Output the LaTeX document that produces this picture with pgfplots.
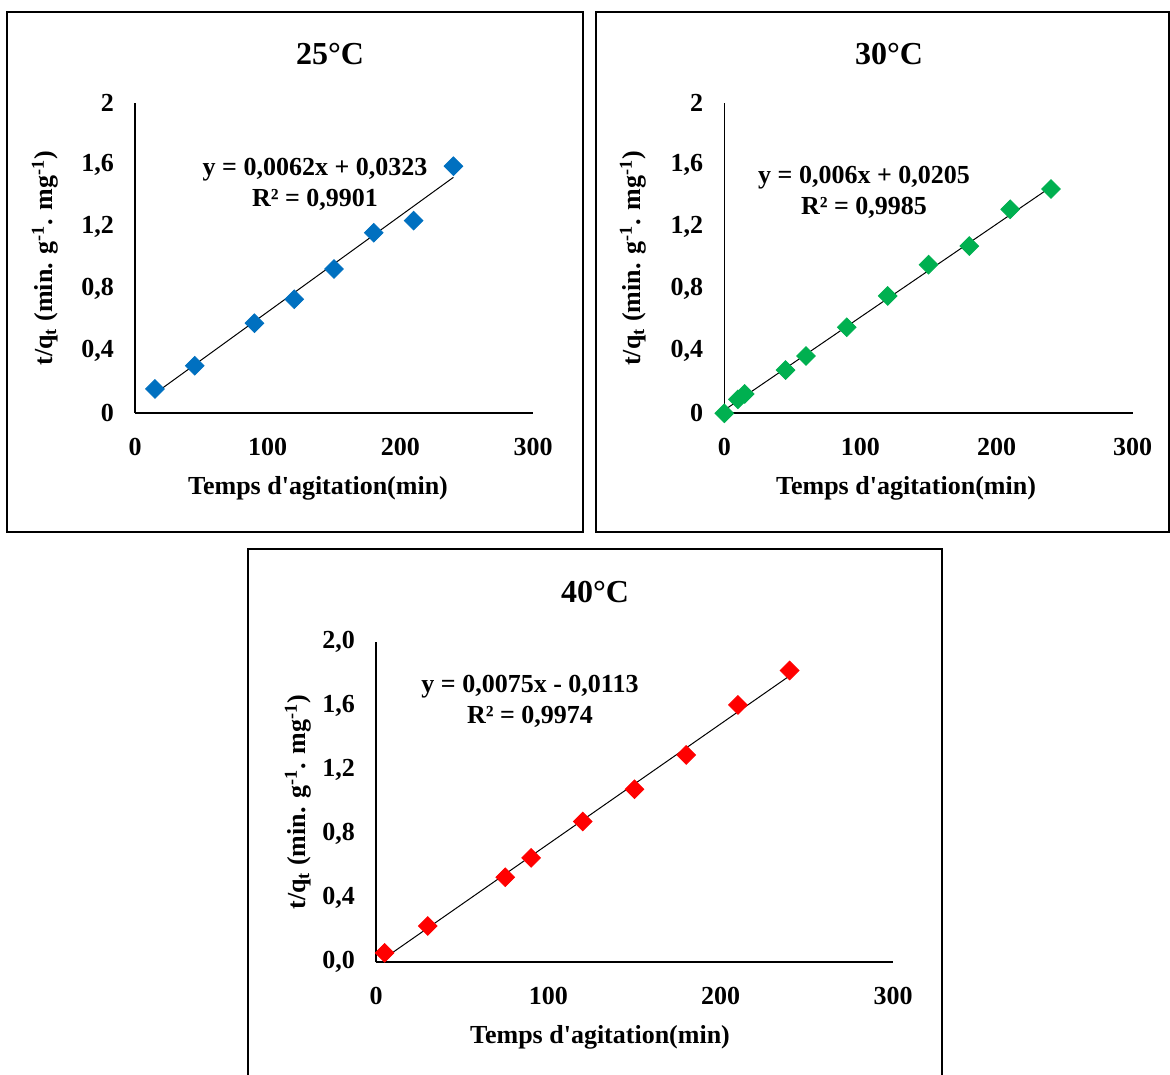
\documentclass[border=0pt]{standalone}
\usepackage{fontspec}
\setmainfont{Liberation Serif}
\usepackage{pgfplots}
\pgfplotsset{compat=1.18}
\definecolor{xlblue}{RGB}{0,112,192}
\definecolor{xlgreen}{RGB}{0,176,80}
\definecolor{xlred}{RGB}{255,0,0}
\newcommand{\fs}{\bfseries\fontsize{13}{15.6}\selectfont}
\pgfplotsset{
  panel/.style={
    anchor=south west,
    scale only axis,
    xmin=0, xmax=300, ymin=0,
    axis x line*=bottom, axis y line*=left,
    axis line style={-, line width=0.8pt},
    xtick={0,100,200,300},
    major tick length=0pt,
    tick style={draw=none},
    /pgf/number format/assume math mode=true,
    tick label style={font=\fs},
    xticklabel style={yshift=-9pt},
    yticklabel style={xshift=-7pt},
    label style={font=\fs},
    xlabel={Temps d\textquotesingle agitation(min)},
    ylabel={t/q\textsubscript{t} (min. g\textsuperscript{-1}. mg\textsuperscript{-1})},
    clip=false,
  },
  pts/.style={only marks, mark=square*, mark size=3.3pt, mark options={rotate=45, draw=#1, fill=#1}},
  trend/.style={black, line width=0.5pt, no marks},
}
\begin{document}
\begin{tikzpicture}
\clip (0,0) rectangle (585pt,537pt);
\useasboundingbox (0,0) rectangle (585pt,537pt);
% frames
\draw[line width=0.8pt] (3.5pt,271pt) rectangle (291.5pt,531pt);
\draw[line width=0.8pt] (298pt,271pt) rectangle (584.5pt,531pt);
\draw[line width=0.8pt] (124pt,-5pt) rectangle (471pt,262.5pt);

% ---------- 25 C ----------
\begin{axis}[panel, at={(67.5pt,330.5pt)}, width=199pt, height=155pt,
  ymax=2, ytick={0,0.4,0.8,1.2,1.6,2},
  yticklabels={0,{0,4},{0,8},{1,2},{1,6},2},
  xlabel style={at={(axis description cs:0.5,0)}, anchor=center, yshift=-37.5pt, xshift=-8pt},
  ylabel style={at={(axis description cs:0,0.5)}, anchor=center, yshift=45pt}]
\addplot[pts=xlblue] coordinates {
 (15,0.155) (45,0.305) (90,0.579) (120,0.734) (150,0.929) (180,1.163) (210,1.241) (240,1.592)};
\addplot[trend] coordinates {(15,0.1253) (240,1.5203)};
\end{axis}
\node[font=\bfseries\fontsize{16}{19}\selectfont] at (165pt,510pt) {25°C};
\node[font=\fs] at (157.5pt,452pt) {y = 0,0062x + 0,0323};
\node[font=\fs] at (157.5pt,437pt) {R² = 0,9901};

% ---------- 30 C ----------
\begin{axis}[panel, at={(362.15pt,330.35pt)}, width=204.2pt, height=155pt,
  ymax=2, ytick={0,0.4,0.8,1.2,1.6,2},
  yticklabels={0,{0,4},{0,8},{1,2},{1,6},2},
  xlabel style={at={(axis description cs:0.5,0)}, anchor=center, yshift=-37.5pt, xshift=-11.25pt},
  ylabel style={at={(axis description cs:0,0.5)}, anchor=center, yshift=45.65pt}]
\addplot[pts=xlgreen] coordinates {
 (0,0) (10,0.090) (15,0.125) (45,0.279) (60,0.370) (90,0.555) (120,0.757) (150,0.959) (180,1.079) (210,1.316) (240,1.447)};
\addplot[trend] coordinates {(0,0.0205) (240,1.4605)};
\end{axis}
\node[font=\bfseries\fontsize{16}{19}\selectfont] at (444.5pt,510pt) {30°C};
\node[font=\fs] at (432pt,448pt) {y = 0,006x + 0,0205};
\node[font=\fs] at (432pt,433pt) {R² = 0,9985};

% ---------- 40 C ----------
\begin{axis}[panel, at={(188pt,55.85pt)}, width=258.5pt, height=160.15pt,
  ymax=2, ytick={0,0.4,0.8,1.2,1.6,2},
  yticklabels={{0,0},{0,4},{0,8},{1,2},{1,6},{2,0}},
  xlabel style={at={(axis description cs:0.5,0)}, anchor=center, yshift=-37.5pt, xshift=-17.25pt},
  ylabel style={at={(axis description cs:0,0.5)}, anchor=center, yshift=39pt}]
\addplot[pts=xlred] coordinates {
 (5,0.059) (30,0.227) (75,0.531) (90,0.652) (120,0.879) (150,1.081) (180,1.295) (210,1.607) (240,1.822)};
\addplot[trend] coordinates {(5,0.0262) (240,1.7887)};
\end{axis}
\node[font=\bfseries\fontsize{16}{19}\selectfont] at (297.5pt,241pt) {40°C};
\node[font=\fs] at (265pt,193.5pt) {y = 0,0075x - 0,0113};
\node[font=\fs] at (265pt,178.5pt) {R² = 0,9974};
\end{tikzpicture}
\end{document}
